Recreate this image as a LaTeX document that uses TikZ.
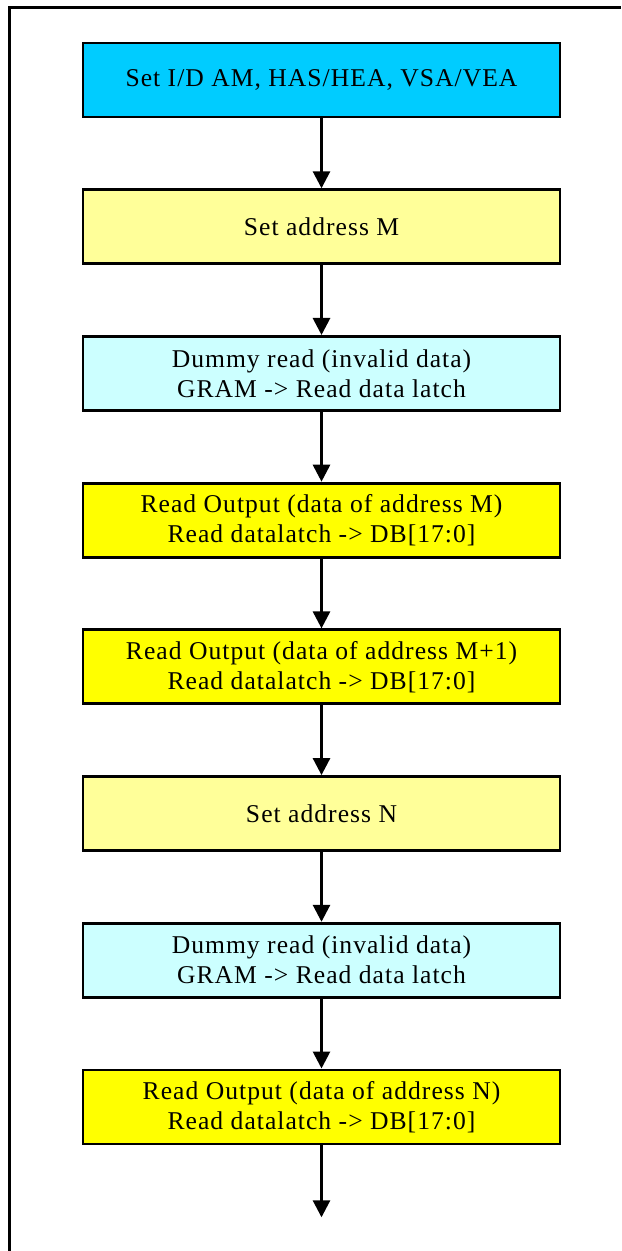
\documentclass[tikz,border=0pt]{standalone}
\usepackage{fontspec}
\setmainfont{Liberation Serif}[LetterSpace=4]
\usepackage{xcolor}
\definecolor{cyanbox}{HTML}{00CCFF}
\definecolor{paleyel}{HTML}{FFFF99}
\definecolor{palecyan}{HTML}{CCFFFF}
\definecolor{yelbox}{HTML}{FFFF00}
\usetikzlibrary{arrows.meta,positioning,calc}
\tikzset{
  >={Triangle[length=8.5pt,width=8.5pt]},
  box/.style={draw=black,line width=1.4pt,minimum width=238.5pt,minimum height=37pt,inner sep=1pt,align=center,font=\fontsize{12.8}{15}\selectfont},
  setbox/.style={box,fill=cyanbox},
  addrbox/.style={box,fill=paleyel},
  dummybox/.style={box,fill=palecyan},
  outbox/.style={box,fill=yelbox},
  arr/.style={->,draw=black,line width=1.4pt},
}
\begin{document}
\begin{tikzpicture}[x=0.5pt,y=-0.5pt,node distance=34.95pt]
\useasboundingbox (0,0) rectangle (621,1251);
\draw[line width=1.4pt] (9.5,1251) -- (9.5,7.5) -- (621,7.5);
\node[setbox] (s) at (321.5,80) {Set I/D AM, HAS/HEA, VSA/VEA};
\node[addrbox,below=of s] (am) {Set address M};
\node[dummybox,below=of am] (dm) {Dummy read (invalid data)\\GRAM -> Read data latch};
\node[outbox,below=of dm] (om) {Read Output (data of address M)\\Read datalatch -> DB[17:0]};
\node[outbox,below=of om] (om1) {Read Output (data of address M+1)\\Read datalatch -> DB[17:0]};
\node[addrbox,below=of om1] (an) {Set address N};
\node[dummybox,below=of an] (dn) {Dummy read (invalid data)\\GRAM -> Read data latch};
\node[outbox,below=of dn] (on) {Read Output (data of address N)\\Read datalatch -> DB[17:0]};
\coordinate (end) at ($(on.south)+(0,72)$);
\foreach \u/\v in {s/am,am/dm,dm/om,om/om1,om1/an,an/dn,dn/on,on/end} \draw[arr] (\u)--(\v);
\end{tikzpicture}
\end{document}
